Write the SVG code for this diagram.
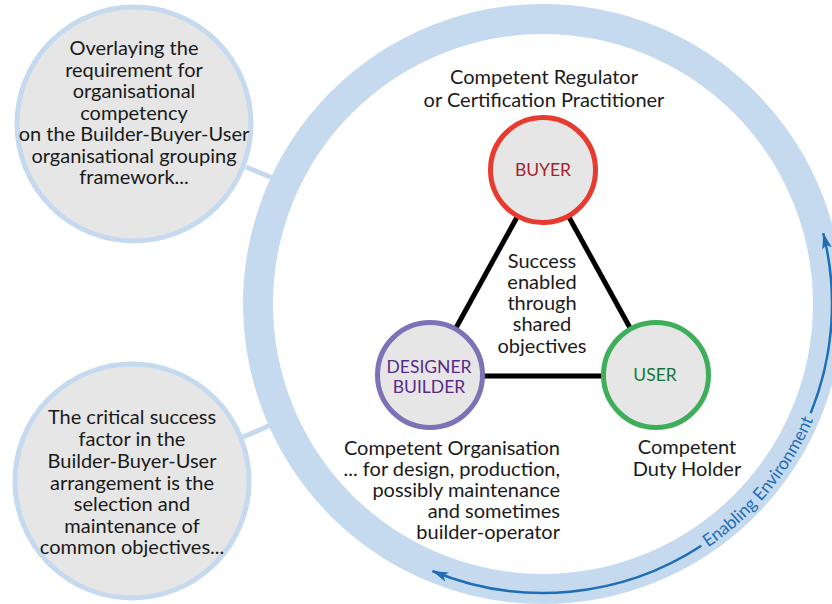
<svg xmlns="http://www.w3.org/2000/svg" width="832" height="604" viewBox="0 0 832 604">
<style>
text{font-family:Lato,"Open Sans","Liberation Sans",sans-serif;fill:#1a1a1a}
.t{font-size:20px;text-anchor:middle}
.r{font-size:20px;text-anchor:end}
.n{font-size:17.5px;text-anchor:middle}
.note{fill:#e6e6e6;stroke:#c5daef;stroke-width:5}
.node{fill:#e6e6e6;stroke-width:5}
.edge{stroke:#000;stroke-width:5;fill:none}
.link{stroke:#c5daef;stroke-width:5;fill:none}
.flow{stroke:#1f6db4;stroke-width:2.5;fill:none;marker-end:url(#ah)}
</style>
<defs>
<marker id="ah" viewBox="0 0 16 10" refX="16" refY="5" markerWidth="16" markerHeight="10" markerUnits="userSpaceOnUse" orient="auto">
<path d="M0,0 L16,5 L0,10 L4,5 Z" fill="#1f6db4"/>
</marker>
<path id="envpath" d="M645.9,579.4 A294,294 0 0 0 833.0,352.5"/>
</defs>
<g id="enabling-environment">
<circle cx="543" cy="304" r="285" fill="none" stroke="#c5daef" stroke-width="30"/>
<path class="flow" d="M701.3,545.8 A289,289 0 0 1 432.4,571.0"/>
<path class="flow" d="M810.6,413.2 A289,289 0 0 0 823.2,233.1"/>
<text style="font-size:17.5px;fill:#1f6db4;text-anchor:middle"><textPath href="#envpath" startOffset="50%">Enabling Environment</textPath></text>
</g>
<g id="connectors">
<line class="link" x1="246" y1="167" x2="275" y2="179"/>
<line class="link" x1="243" y1="437" x2="271" y2="425"/>
<line class="edge" x1="543" y1="170" x2="430" y2="375"/>
<line class="edge" x1="543" y1="170" x2="656" y2="375"/>
<line class="edge" x1="430" y1="376" x2="656" y2="376"/>
</g>
<g id="note-overlay">
<circle class="note" cx="134" cy="124" r="117"/>
<text class="t" x="134" y="55">Overlaying the</text>
<text class="t" x="134" y="77">requirement for</text>
<text class="t" x="134" y="98">organisational</text>
<text class="t" x="134" y="120">competency</text>
<text class="t" x="134" y="141">on the Builder-Buyer-User</text>
<text class="t" x="134" y="163">organisational grouping</text>
<text class="t" x="134" y="184">framework...</text>
</g>
<g id="note-critical">
<circle class="note" cx="132" cy="481" r="117"/>
<text class="t" x="132" y="424">The critical success</text>
<text class="t" x="132" y="446">factor in the</text>
<text class="t" x="132" y="468">Builder-Buyer-User</text>
<text class="t" x="132" y="490">arrangement is the</text>
<text class="t" x="132" y="511">selection and</text>
<text class="t" x="132" y="533">maintenance of</text>
<text class="t" x="132" y="554">common objectives...</text>
</g>
<g id="label-regulator">
<text class="t" x="544" y="84">Competent Regulator</text>
<text class="t" x="544" y="107">or Certification Practitioner</text>
</g>
<g id="label-shared">
<text class="t" x="542" y="268">Success</text>
<text class="t" x="542" y="289">enabled</text>
<text class="t" x="542" y="310">through</text>
<text class="t" x="542" y="331">shared</text>
<text class="t" x="542" y="353">objectives</text>
</g>
<g id="buyer">
<circle class="node" cx="543" cy="170" r="52.5" stroke="#e83a2f"/>
<text class="n" x="543" y="176" style="fill:#a4232b">BUYER</text>
</g>
<g id="designer-builder">
<circle class="node" cx="430" cy="375" r="52.5" stroke="#7d72b6"/>
<text class="n" x="429" y="373" style="fill:#5a2a8a">DESIGNER</text>
<text class="n" x="429" y="393" style="fill:#5a2a8a">BUILDER</text>
</g>
<g id="user">
<circle class="node" cx="656" cy="375" r="52.5" stroke="#3fae5b"/>
<text class="n" x="655" y="381" style="fill:#15773a">USER</text>
</g>
<g id="label-organisation">
<text class="r" x="560" y="455">Competent Organisation</text>
<text class="r" x="560" y="476">... for design, production,</text>
<text class="r" x="560" y="497">possibly maintenance</text>
<text class="r" x="560" y="518">and sometimes</text>
<text class="r" x="560" y="539">builder-operator</text>
</g>
<g id="label-duty-holder">
<text class="t" x="687" y="454">Competent</text>
<text class="t" x="687" y="476">Duty Holder</text>
</g>
</svg>
